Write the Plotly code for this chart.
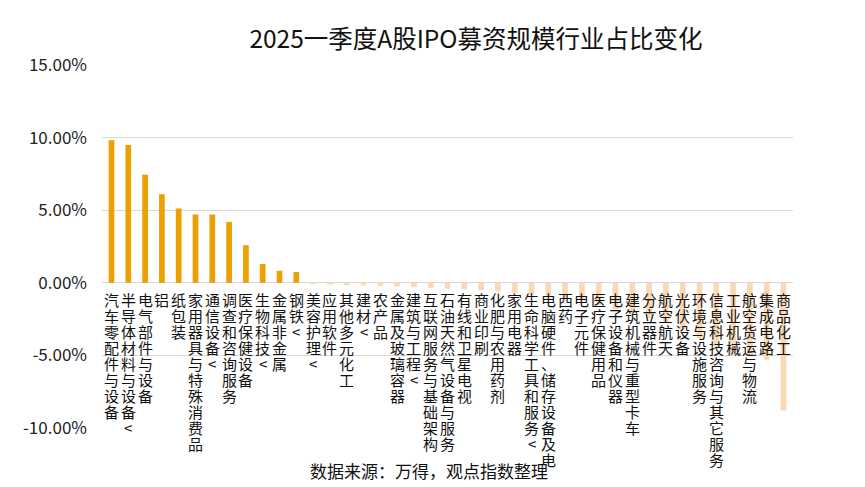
import plotly.graph_objects as go

categories = [
    "汽车零配件与设备", "半导体材料与设备<", "电气部件与设备", "铝", "纸包装",
    "家用器具与特殊消费品", "通信设备<", "调查和咨询服务", "医疗保健设备", "生物科技<",
    "金属非金属", "钢铁<", "美容护理<", "应用软件", "其他多元化工",
    "建材<", "农产品", "金属及玻璃容器", "建筑与工程<", "互联网服务与基础架构",
    "石油天然气设备与服务", "有线和卫星电视", "商业印刷", "化肥与农用药剂", "家用电器",
    "生命科学工具和服务<", "电脑硬件、储存设备及电", "西药", "电子元件", "医疗保健用品",
    "电子设备和仪器", "建筑机械与重型卡车", "分立器件", "航空航天", "光伏设备",
    "环境与设施服务", "信息科技咨询与其它服务", "工业机械", "航空货运与物流", "集成电路",
    "商品化工",
]

share_change = [
    9.81, 9.49, 7.45, 6.10, 5.12,
    4.70, 4.70, 4.20, 2.59, 1.29,
    0.83, 0.74, -0.10, -0.12, -0.15,
    -0.18, -0.20, -0.25, -0.30, -0.35,
    -0.40, -0.45, -0.50, -0.60, -0.70,
    -0.80, -0.90, -1.00, -1.20, -1.50,
    -1.80, -2.10, -2.40, -2.80, -3.20,
    -3.80, -4.40, -4.90, -5.00, -5.30,
    -8.80,
]

y_ticks = [-10, -5, 0, 5, 10, 15]
y_tick_labels = ["-10.00%", "-5.00%", "0.00%", "5.00%", "10.00%", "15.00%"]

title_text = "2025一季度A股IPO募资规模行业占比变化"
source_text = "数据来源：万得，观点指数整理"

POS_COLOR = "#EBA102"
NEG_COLOR = "#F9D8B3"
FONT = "Noto Sans CJK SC"

colors = [POS_COLOR if v >= 0 else NEG_COLOR for v in share_change]

fig = go.Figure()
fig.add_trace(go.Bar(
    x=categories,
    y=share_change,
    marker=dict(color=colors, line=dict(width=0)),
    hoverinfo="x+y",
))

# vertical (stacked-character) category labels placed under the zero line
annotations = []
for cat in categories:
    for j, ch in enumerate(cat):
        annotations.append(dict(
            x=cat, y=0, xref="x", yref="y",
            text="&lt;" if ch == "<" else ch, showarrow=False,
            xanchor="center", yanchor="middle",
            yshift=-(17 + 16 * j),
            font=dict(family=FONT, size=15, color="#111111"),
        ))

annotations.append(dict(
    x=0.473, y=0, xref="paper", yref="paper",
    text=source_text, showarrow=False,
    xanchor="center", yanchor="middle", yshift=-42,
    font=dict(family=FONT, size=17, color="#111111"),
))

fig.update_layout(
    width=865, height=487,
    margin=dict(l=94, r=80, t=57, b=67),
    paper_bgcolor="white", plot_bgcolor="white",
    title=dict(
        text=title_text, x=0.541, xref="container", xanchor="center",
        y=1 - 31 / 487, yref="container", yanchor="middle",
        font=dict(family=FONT, size=24.5, color="#111111"),
    ),
    bargap=0.66,
    showlegend=False,
    xaxis=dict(showticklabels=False, showgrid=False, zeroline=False, showline=False,
               ticks="", automargin=False),
    yaxis=dict(
        range=[-10, 15], tickvals=y_ticks, ticktext=y_tick_labels,
        showgrid=True, gridcolor="#D9D9D9", gridwidth=1,
        zeroline=True, zerolinecolor="#D9D9D9", zerolinewidth=1,
        showline=False, ticks="", automargin=False,
        tickfont=dict(family=FONT, size=17, color="#222222"),
        ticklabelstandoff=14,
    ),
    annotations=annotations,
)

fig.write_html("out.html")
